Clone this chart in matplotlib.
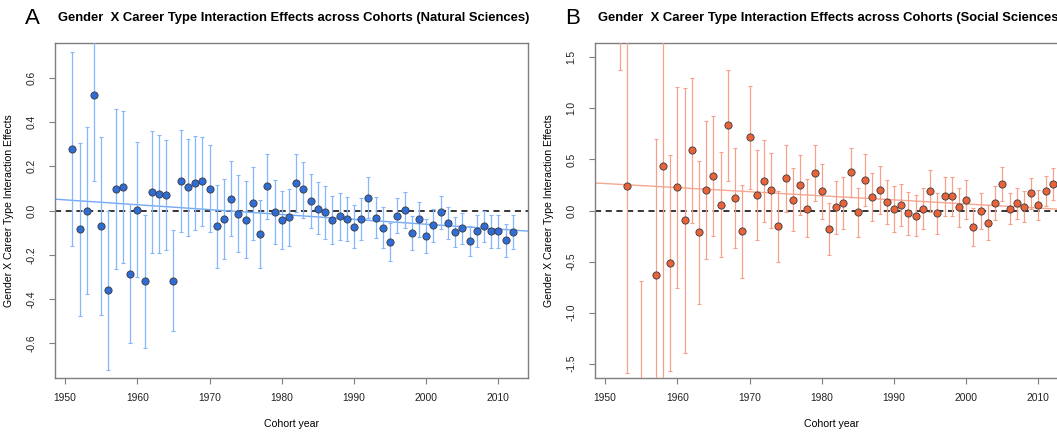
import numpy as np
import matplotlib
matplotlib.use("Agg")
import matplotlib.pyplot as plt

plt.rcParams["font.family"] = ["Liberation Sans", "DejaVu Sans"]

# Natural sciences: interaction estimate and upper / lower interval bounds per cohort
nat_years = list(range(1951, 2013))
nat_est = [0.278, -0.084, 0.000, 0.523, -0.069, -0.358, 0.095, 0.107, -0.286, 0.003,
           -0.320, 0.083, 0.075, 0.071, -0.316, 0.134, 0.105, 0.123, 0.132, 0.099,
           -0.071, -0.038, 0.053, -0.015, -0.041, 0.032, -0.105, 0.110, -0.008, -0.042,
           -0.029, 0.125, 0.096, 0.041, 0.009, -0.009, -0.044, -0.024, -0.038, -0.074,
           -0.039, 0.056, -0.033, -0.078, -0.143, -0.023, 0.003, -0.101, -0.039, -0.114,
           -0.066, -0.008, -0.056, -0.096, -0.080, -0.137, -0.093, -0.071, -0.093, -0.093,
           -0.132, -0.096]
nat_hi = [0.717, 0.304, 0.377, 0.911, 0.331, 0.000, 0.456, 0.450, 0.030, 0.308,
          -0.021, 0.359, 0.343, 0.319, -0.090, 0.364, 0.322, 0.338, 0.332, 0.295,
          0.117, 0.143, 0.223, 0.158, 0.134, 0.195, 0.048, 0.257, 0.137, 0.087,
          0.098, 0.253, 0.221, 0.164, 0.129, 0.111, 0.065, 0.081, 0.063, 0.024,
          0.056, 0.150, 0.059, 0.014, -0.057, 0.057, 0.084, -0.023, 0.038, -0.038,
          0.008, 0.066, 0.017, -0.029, -0.011, -0.071, -0.021, 0.000, -0.021, -0.021,
          -0.059, -0.020]
nat_lo = [-0.161, -0.474, -0.379, 0.135, -0.472, -0.720, -0.266, -0.235, -0.600, -0.299,
          -0.621, -0.194, -0.192, -0.177, -0.544, -0.095, -0.113, -0.090, -0.068, -0.096,
          -0.260, -0.217, -0.117, -0.189, -0.214, -0.134, -0.259, -0.039, -0.150, -0.174,
          -0.158, -0.006, -0.032, -0.081, -0.108, -0.129, -0.152, -0.132, -0.138, -0.171,
          -0.135, -0.032, -0.125, -0.171, -0.229, -0.102, -0.077, -0.180, -0.119, -0.191,
          -0.140, -0.083, -0.129, -0.165, -0.149, -0.206, -0.165, -0.143, -0.167, -0.168,
          -0.208, -0.176]

# Social sciences
soc_years = [1952, 1953, 1955] + list(range(1957, 2013))
soc_est = [2.100, 0.238, -2.300, -0.633, 0.440, -0.514, 0.228, -0.096, 0.588, -0.215,
           0.196, 0.338, 0.058, 0.833, 0.125, -0.203, 0.717, 0.151, 0.286, 0.196,
           -0.154, 0.315, 0.106, 0.248, 0.019, 0.370, 0.190, -0.180, 0.032, 0.071,
           0.373, -0.016, 0.299, 0.135, 0.203, 0.087, 0.016, 0.055, -0.029, -0.051,
           0.019, 0.190, -0.029, 0.141, 0.141, 0.032, 0.106, -0.158, -0.006, -0.122,
           0.074, 0.260, 0.019, 0.071, 0.039, 0.167, 0.055, 0.193, 0.257]
soc_hi = [2.821, 2.064, -0.691, 0.701, 2.640, 0.543, 1.212, 1.203, 1.302, 0.486,
          0.875, 0.929, 0.576, 1.376, 0.614, 0.254, 1.222, 0.595, 0.691, 0.566,
          0.193, 0.643, 0.412, 0.547, 0.305, 0.643, 0.457, 0.071, 0.289, 0.331,
          0.611, 0.225, 0.553, 0.370, 0.437, 0.302, 0.238, 0.264, 0.183, 0.148,
          0.225, 0.395, 0.170, 0.331, 0.331, 0.222, 0.299, 0.029, 0.170, 0.055,
          0.241, 0.424, 0.170, 0.222, 0.190, 0.318, 0.199, 0.338, 0.412]
soc_lo = [1.379, -1.588, -3.910, -1.967, -1.760, -1.569, -0.756, -1.395, -0.122, -0.913,
          -0.479, -0.251, -0.460, 0.289, -0.363, -0.656, 0.215, -0.293, -0.116, -0.174,
          -0.502, -0.016, -0.196, -0.048, -0.260, 0.093, -0.080, -0.434, -0.228, -0.186,
          0.135, -0.260, 0.042, -0.103, -0.032, -0.132, -0.206, -0.154, -0.241, -0.254,
          -0.186, -0.016, -0.228, -0.051, -0.051, -0.158, -0.087, -0.344, -0.183, -0.293,
          -0.096, 0.096, -0.135, -0.080, -0.116, 0.013, -0.093, 0.048, 0.103]

# fitted trend: value at 1950 and slope per year
nat_trend = (0.048, -0.0022)
soc_trend = (0.264, -0.0040)

W, H = 1057, 432
fig = plt.figure(figsize=(W / 100, H / 100), dpi=100)

grey = "#7f7f7f"


def panel(left_px, years, est, hi, lo, trend, ylim, yticks, colors, letter, title):
    ax = fig.add_axes([left_px / W, (H - 378) / H, 473 / W, 335 / H])
    pt_col, bar_col, line_col = colors
    years = np.array(years)
    est = np.array(est)
    err = [est - np.array(lo), np.array(hi) - est]

    ax.axhline(0, color="black", lw=1.1, ls=(0, (4, 3)), zorder=1)
    ax.axline((1950, trend[0]), slope=trend[1], color=line_col, lw=1.0, zorder=2)
    ax.errorbar(years, est, yerr=err, fmt="none", ecolor=bar_col, elinewidth=0.9,
                capsize=1.3, capthick=0.8, zorder=3)
    ax.plot(years, est, "o", ms=5.2, mfc=pt_col, mec="#3a3a3a", mew=0.6, zorder=4)

    ax.set_xlim(1948.6, 2014.1)
    ax.set_ylim(*ylim)
    ax.set_xticks(range(1950, 2011, 10))
    ax.set_yticks(yticks)
    ax.set_yticklabels([f"{v:.1f}" for v in yticks], rotation=90, va="center")
    ax.tick_params(direction="out", length=4.5, width=0.8, color=grey,
                   labelsize=7.4, labelcolor="#222222")
    ax.tick_params(axis="x", pad=6)
    ax.tick_params(axis="y", pad=9)
    for s in ax.spines.values():
        s.set_color(grey)
        s.set_linewidth(1.0)
    ax.set_xlabel("Cohort year", fontsize=7.6, labelpad=12)
    ax.set_ylabel("Gender X Career Type Interaction Effects", fontsize=7.6, labelpad=9)

    fig.text((left_px - 30) / W, 1 - 19 / H, letter, fontsize=16, va="center", ha="left")
    fig.text((left_px + 3) / W, 1 - 18 / H, title, fontsize=9.35, fontweight="bold",
             va="center", ha="left")
    return ax


panel(55, nat_years, nat_est, nat_hi, nat_lo, nat_trend, (-0.756, 0.756),
      [-0.6, -0.4, -0.2, 0.0, 0.2, 0.4, 0.6], ("#2f6cd6", "#86b6fb", "#74a9f5"), "A",
      "Gender  X Career Type Interaction Effects across Cohorts (Natural Sciences)")
panel(595, soc_years, soc_est, soc_hi, soc_lo, soc_trend, (-1.64, 1.64),
      [-1.5, -1.0, -0.5, 0.0, 0.5, 1.0, 1.5], ("#e8623a", "#f7a18c", "#f6a891"), "B",
      "Gender  X Career Type Interaction Effects across Cohorts (Social Sciences)")

fig.savefig("out.png", dpi=100)
